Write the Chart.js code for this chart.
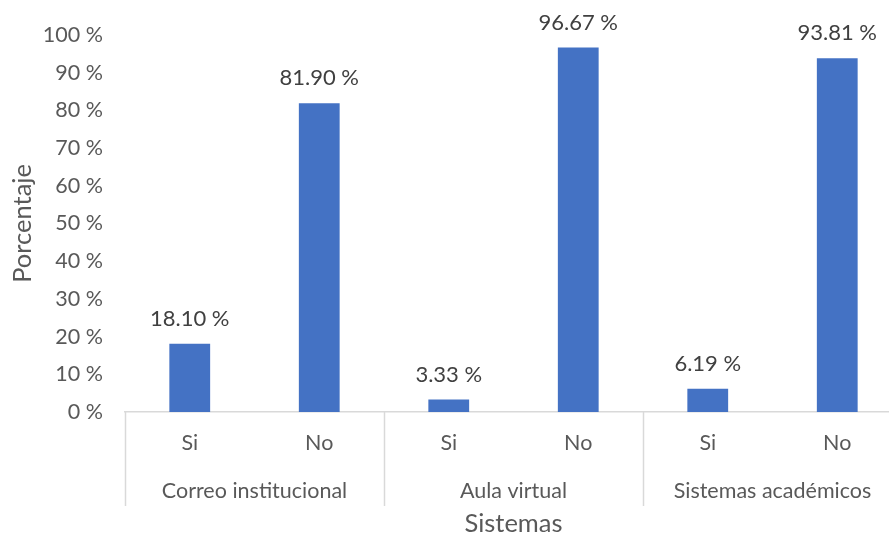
<!DOCTYPE html>
<html>
<head>
<meta charset="utf-8">
<script src="https://cdn.jsdelivr.net/npm/chart.js@4"></script>
<style>
  html, body { margin: 0; padding: 0; background: #fff; overflow: hidden; }
  #wrap { width: 906px; height: 540px; }
</style>
</head>
<body>
<div id="wrap"><canvas id="chart"></canvas></div>
<script>
// data
const groups = ['Correo institucional', 'Aula virtual', 'Sistemas académicos'];
const answers = ['Si', 'No', 'Si', 'No', 'Si', 'No'];
const percent = [18.10, 81.90, 3.33, 96.67, 6.19, 93.81];

const FONT = 'Lato, "Open Sans", sans-serif';
const TEXT = '#595959';

// value labels over bars + group labels and separators under the axis
const labelsPlugin = {
  id: 'labels',
  afterDraw(chart) {
    const ctx = chart.ctx;
    const x = chart.scales.x;
    const meta = chart.getDatasetMeta(0);
    ctx.save();
    ctx.font = '22px ' + FONT;
    ctx.fillStyle = '#404040';
    ctx.textAlign = 'center';
    ctx.textBaseline = 'middle';
    meta.data.forEach((bar, i) => {
      ctx.fillText(percent[i].toFixed(2) + ' %', bar.x, bar.y - 25);
    });

    const step = x.getPixelForValue(1) - x.getPixelForValue(0);
    const axisY = chart.scales.y.getPixelForValue(0);
    ctx.strokeStyle = '#d9d9d9';
    ctx.lineWidth = 1.5;
    for (let g = 0; g <= groups.length; g++) {
      const px = Math.round(x.getPixelForValue(2 * g) - step / 2) + 0.5;
      ctx.beginPath();
      ctx.moveTo(px, axisY);
      ctx.lineTo(px, axisY + 94);
      ctx.stroke();
    }
    ctx.font = '21.5px ' + FONT;
    ctx.fillStyle = TEXT;
    groups.forEach((g, i) => {
      const cx = (x.getPixelForValue(2 * i) + x.getPixelForValue(2 * i + 1)) / 2;
      ctx.fillText(g, cx, axisY + 79);
    });
    ctx.restore();
  }
};

new Chart(document.getElementById('chart'), {
  type: 'bar',
  data: {
    labels: answers,
    datasets: [{
      label: 'Porcentaje',
      data: percent,
      backgroundColor: '#4472C4',
      categoryPercentage: 1,
      barPercentage: 0.315
    }]
  },
  options: {
    responsive: true,
    maintainAspectRatio: false,
    animation: false,
    layout: { padding: { top: 30, right: 4, left: 0, bottom: 0 } },
    plugins: { legend: { display: false }, tooltip: { enabled: false } },
    scales: {
      y: {
        min: 0,
        max: 100,
        ticks: {
          stepSize: 10,
          padding: 22,
          color: TEXT,
          font: { family: FONT, size: 21.5 },
          callback: v => v + ' %'
        },
        grid: { display: false, drawTicks: false },
        border: { display: false },
        title: {
          display: true,
          text: 'Porcentaje',
          color: TEXT,
          font: { family: FONT, size: 25.5 },
          padding: { top: 7, bottom: 0 }
        },
        afterFit: s => { s.width = 125; }
      },
      x: {
        ticks: {
          padding: 18,
          color: TEXT,
          font: { family: FONT, size: 21.5 }
        },
        grid: { display: false, drawTicks: false },
        border: { display: true, color: '#d9d9d9', width: 1.5 },
        title: {
          display: true,
          text: 'Sistemas',
          color: TEXT,
          font: { family: FONT, size: 25.5 },
          padding: { top: 4, bottom: 1 }
        },
        afterFit: s => { s.height = 128; }
      }
    }
  },
  plugins: [labelsPlugin]
});
</script>
</body>
</html>
